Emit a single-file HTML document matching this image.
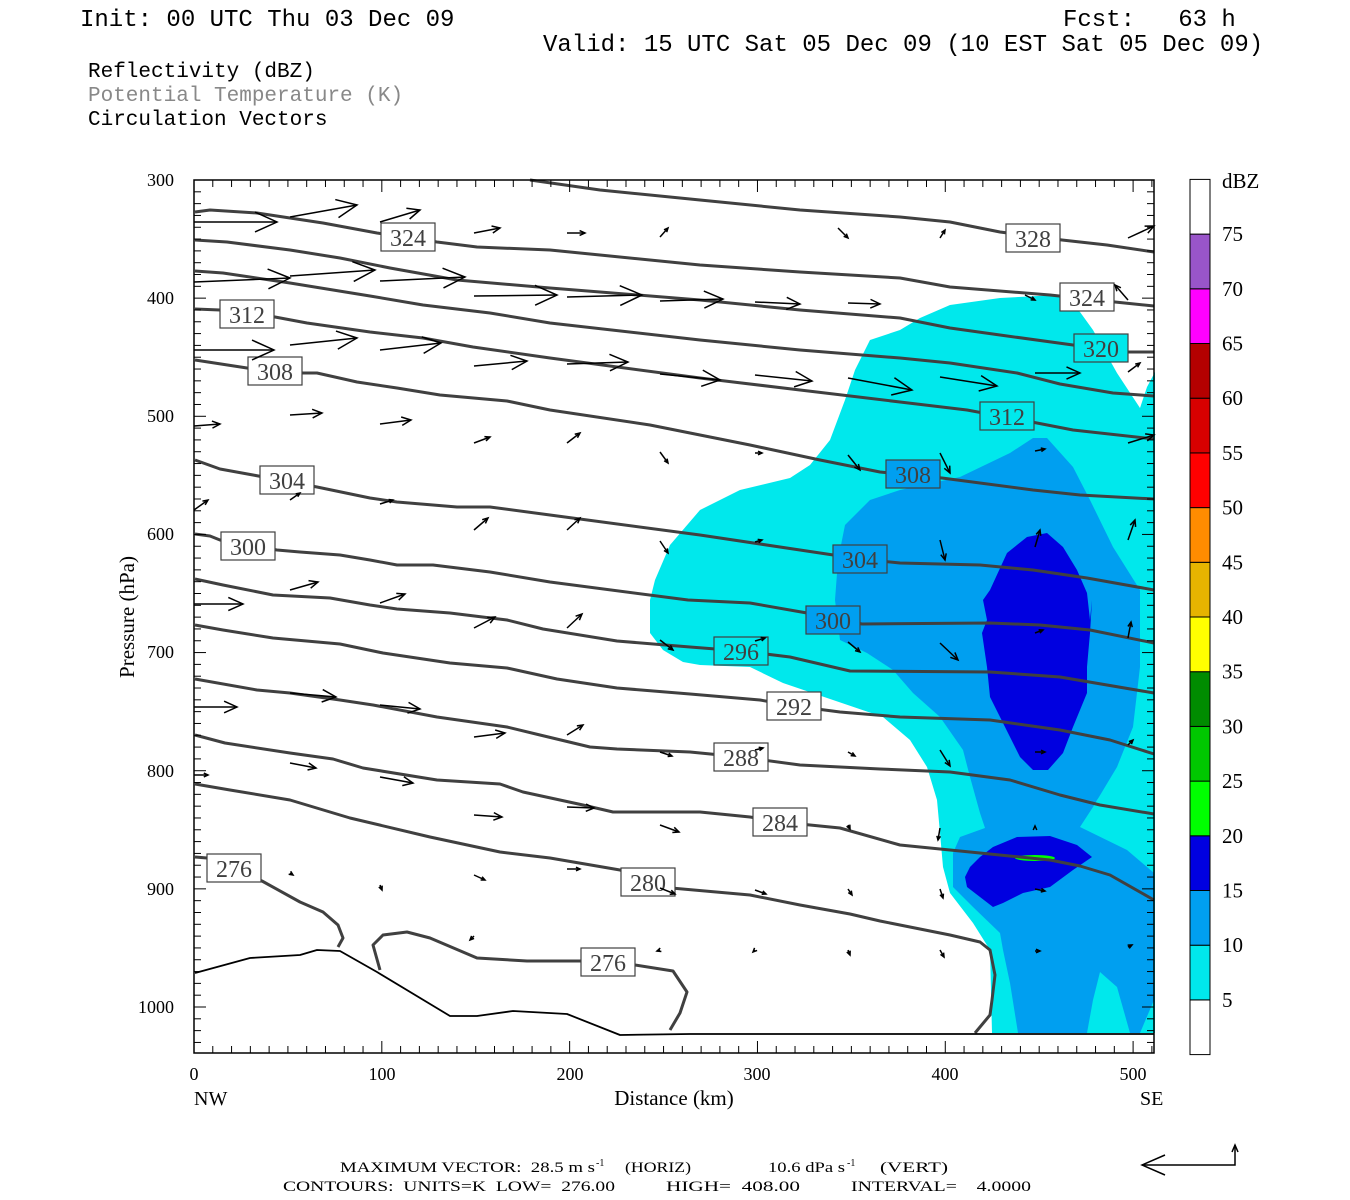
<!DOCTYPE html>
<html><head><meta charset="utf-8">
<style>
html,body{margin:0;padding:0;background:#fff;}
svg{display:block;}
text{font-family:"Liberation Serif",serif;white-space:pre;}
.m{font-family:"Liberation Mono",monospace;}
</style></head>
<body>
<svg id="s" width="1350" height="1200" viewBox="0 0 1350 1200" xmlns="http://www.w3.org/2000/svg" xml:space="preserve">
<rect width="1350" height="1200" fill="#fff"/>
<text class="m" x="80" y="26" font-size="24" fill="#000">Init: 00 UTC Thu 03 Dec 09</text>
<text class="m" x="1063" y="26" font-size="24" fill="#000">Fcst:   63 h</text>
<text class="m" x="543" y="51" font-size="24" fill="#000">Valid: 15 UTC Sat 05 Dec 09 (10 EST Sat 05 Dec 09)</text>
<text class="m" x="88" y="77" font-size="21" fill="#000">Reflectivity (dBZ)</text>
<text class="m" x="88" y="101" font-size="21" fill="#888">Potential Temperature (K)</text>
<text class="m" x="88" y="125" font-size="21" fill="#000">Circulation Vectors</text>

<g>
<path fill="#00e8ec" d="M650,633 L650,600 655,580 670,545 700,510 740,490 790,478 810,465 830,440 845,400 855,370 870,340 900,330 920,318 950,305 1000,298 1057,295 1080,312 1093,330 1117,373 1140,408 1147,387 1155,372 L1155,1033 992,1033 990,950 973,923 950,893 943,867 940,833 937,800 927,767 910,740 883,717 833,700 783,683 750,667 700,665 683,662 663,650 Z"/>
<path fill="#009ff0" d="M835,600 838,560 845,525 870,500 900,490 960,477 1010,453 1033,438 1047,438 1073,467 1090,500 1113,547 1140,590 1140,667 1133,727 1117,767 1093,807 1080,827 1127,850 1154,873 1154,1000 1140,1033 1018,1033 1010,983 1003,950 1000,933 973,907 953,887 953,853 960,837 985,828 980,813 970,777 963,750 940,717 913,693 893,670 867,653 840,640 Z"/>
<path fill="#00e8ec" d="M1087,1033 1093,1000 1100,972 1117,987 1130,1033 Z"/>
<path fill="#00e8ec" d="M1083,827 1097,800 1120,770 1133,750 1145,790 1140,830 1130,850 Z"/>
<path fill="#0000e0" d="M983,600 987,620 982,633 987,667 990,697 1003,723 1020,757 1033,770 1048,770 1063,753 1073,727 1087,693 1087,667 1090,633 1092,600 1090,620 1087,593 1077,570 1063,547 1047,533 1027,537 1007,553 990,590 Z"/>
<path fill="#0000e0" d="M965,877 967,887 993,907 1003,903 1023,893 1050,887 1073,870 1092,857 1077,845 1050,836 1017,837 993,847 980,857 970,867 Z"/>
<ellipse cx="1035" cy="858" rx="20" ry="3" fill="#00ff00"/>
</g>

<g id="contours" fill="none" stroke="#404040" stroke-width="3" stroke-linejoin="round"></g>
<g id="labels"></g>
<g id="arrows" stroke="#000" stroke-width="1.5" fill="none"></g>

<rect x="194" y="180" width="960" height="873" fill="none" stroke="#000" stroke-width="1.5"/>
<g id="ticks" stroke="#000" stroke-width="1"></g>

<g font-size="18" text-anchor="end" fill="#000">
<text x="174" y="186">300</text><text x="174" y="304">400</text><text x="174" y="422">500</text>
<text x="174" y="540">600</text><text x="174" y="658">700</text><text x="174" y="777">800</text>
<text x="174" y="895">900</text><text x="174" y="1013">1000</text>
</g>
<g font-size="18" text-anchor="middle" fill="#000">
<text x="194" y="1080">0</text><text x="382" y="1080">100</text><text x="570" y="1080">200</text>
<text x="757" y="1080">300</text><text x="945" y="1080">400</text><text x="1133" y="1080">500</text>
</g>
<text x="194" y="1105" font-size="20">NW</text>
<text x="1140" y="1105" font-size="20">SE</text>
<text x="674" y="1105" font-size="21" text-anchor="middle">Distance (km)</text>
<text x="134" y="617" font-size="21" text-anchor="middle" transform="rotate(-90 134 617)">Pressure (hPa)</text>

<g id="cbar" stroke="#000" stroke-width="1"></g>
<g font-size="21" fill="#000"><text x="1222" y="188">dBZ</text></g>
<g id="cbl" font-size="21" fill="#000"></g>

<g font-size="15" fill="#000">
<text x="340" y="1172" textLength="255" lengthAdjust="spacingAndGlyphs">MAXIMUM VECTOR:  28.5 m s</text>
<text x="596" y="1166" font-size="10">-1</text>
<text x="625" y="1172" textLength="66" lengthAdjust="spacingAndGlyphs">(HORIZ)</text>
<text x="768" y="1172" textLength="77" lengthAdjust="spacingAndGlyphs">10.6 dPa s</text>
<text x="847" y="1166" font-size="10">-1</text>
<text x="880" y="1172" textLength="68" lengthAdjust="spacingAndGlyphs">(VERT)</text>
<text x="283" y="1191" textLength="332" lengthAdjust="spacingAndGlyphs">CONTOURS:  UNITS=K  LOW=  276.00</text>
<text x="666" y="1191" textLength="134" lengthAdjust="spacingAndGlyphs">HIGH=  408.00</text>
<text x="851" y="1191" textLength="180" lengthAdjust="spacingAndGlyphs">INTERVAL=    4.0000</text>
</g>
<g stroke="#000" stroke-width="1.5" fill="none">
<polyline points="1142,1165 1235,1165 1235,1145"/>
<polyline points="1165,1155 1142,1165 1165,1175"/>
<polyline points="1232,1152 1235,1145 1238,1152"/>
</g>
</svg>
<script>
const NS="http://www.w3.org/2000/svg";
function el(t,a,p){const e=document.createElementNS(NS,t);for(const k in a)e.setAttribute(k,a[k]);p.appendChild(e);return e;}
const C=document.getElementById('contours');
const lines=[
"530,180 600,190 700,200 800,210 900,217 950,222 1000,232 1062,240 1107,245 1154,252",
"195,212 210,210 257,213 323,223 377,233 437,242 477,247 550,250 700,265 800,272 900,278 950,287 1050,295 1115,302 1154,306",
"195,240 227,242 290,250 340,258 390,268 457,280 550,288 700,300 800,310 900,318 950,328 1000,335 1073,345 1128,352 1154,352",
"195,271 223,273 290,283 370,296 423,305 490,313 550,323 700,340 800,350 900,358 950,363 1017,373 1060,384 1113,393 1154,396",
"195,309 220,310 275,317 307,323 370,332 423,338 473,347 550,358 700,378 800,390 900,402 967,410 1037,423 1073,430 1154,439",
"195,360 247,368 303,373 317,373 357,382 397,388 440,395 507,401 550,410 650,425 750,445 820,460 880,472 942,478 1033,490 1080,495 1154,499",
"195,460 220,469 253,475 317,487 370,498 397,502 457,507 490,507 550,515 700,535 800,550 860,559 900,563 980,565 1033,570 1087,578 1154,590",
"195,534 210,536 220,540 277,550 300,552 340,555 370,560 397,565 433,565 490,572 550,582 688,600 750,603 807,613 862,624 990,623 1040,625 1090,630 1154,643",
"195,579 223,585 273,595 330,598 370,605 397,609 450,613 507,620 543,629 617,641 690,647 741,651 790,657 850,671 990,672 1060,677 1154,693",
"195,625 223,630 273,638 340,644 383,653 450,663 507,668 557,679 617,688 690,694 760,700 794,706 840,712 900,717 990,720 1060,730 1110,740 1154,754",
"195,679 257,690 290,693 340,700 373,705 437,717 507,727 540,735 590,747 617,749 690,752 741,757 800,765 880,769 950,772 1010,780 1060,795 1100,805 1154,814",
"195,735 225,743 290,753 333,759 363,768 437,780 500,784 523,792 583,805 613,812 700,812 750,817 780,822 840,828 900,845 970,852 1050,860 1080,866 1110,875 1154,900",
"195,784 230,790 290,800 350,818 430,837 500,852 550,858 620,870 660,887 750,895 800,905 850,914 880,921 950,935 980,942 990,950 995,975 992,1000 990,1015 975,1033",
"195,857 207,858 262,881 300,902 323,912 338,925 343,938 338,947",
"380,970 373,945 383,935 407,932 430,938 477,958 527,961 580,961 635,965 673,971 687,992 680,1013 670,1030"
];
lines.forEach(p=>el('polyline',{points:p},C));
el('polyline',{points:"195,973 250,958 300,955 317,950 340,951 377,972 450,1016 477,1016 513,1011 567,1014 620,1035 690,1034 1154,1034",stroke:"#000","stroke-width":"1.8"},C);
const L=document.getElementById('labels');
const labs=[[408,237,"324","#fff"],[247,314,"312","#fff"],[275,371,"308","#fff"],[287,480,"304","#fff"],[248,546,"300","#fff"],[234,868,"276","#fff"],
[1033,238,"328","#fff"],[1087,297,"324","#fff"],[1101,348,"320","#00e8ec"],[1007,416,"312","#00e8ec"],[913,474,"308","#009ff0"],[860,559,"304","#009ff0"],
[833,620,"300","#009ff0"],[741,651,"296","#00e8ec"],[794,706,"292","#fff"],[741,757,"288","#fff"],[780,822,"284","#fff"],[648,882,"280","#fff"],[608,962,"276","#fff"]];
labs.forEach(([x,y,t,f])=>{el('rect',{x:x-27,y:y-14,width:54,height:28,fill:f,stroke:"#404040","stroke-width":"1.2"},L);
 const e=el('text',{x:x,y:y+9,"text-anchor":"middle","font-size":"24",fill:"#404040"},L);e.textContent=t;});
const A=document.getElementById('arrows');
const arr=[[290,217,357,205],[380,222,420,210],[194,222,277,222],[474,233,500,228],[567,233,585,233],[660,237,668,228],[838,228,848,238],[940,238,945,230],[1128,238,1154,226],
[194,282,290,278],[290,276,375,270],[380,281,465,277],[474,296,557,295],[567,297,642,295],[660,301,723,299],[755,302,800,304],[848,303,880,304],[1025,295,1035,300],[1128,300,1115,285],
[194,350,274,350],[290,345,357,338],[380,350,441,343],[474,366,527,361],[567,364,628,362],[660,374,720,380],[755,375,812,381],[848,378,912,390],[940,377,997,386],[1035,373,1080,373],[1128,372,1140,363],
[194,426,220,424],[290,415,322,413],[380,424,411,420],[474,443,490,437],[567,443,580,433],[660,452,668,463],[755,453,762,453],[848,455,860,470],[940,453,950,473],[1035,451,1045,449],[1128,443,1154,435],
[194,510,208,500],[290,500,300,493],[380,504,393,500],[474,530,488,518],[567,530,580,518],[660,541,668,553],[755,542,762,540],[940,540,945,560],[1035,547,1040,530],[1128,540,1135,520],
[194,604,243,604],[290,590,318,582],[380,603,405,594],[474,628,495,617],[567,628,582,614],[660,640,673,650],[755,641,765,638],[848,642,860,652],[940,643,958,660],[1035,633,1043,630],[1128,638,1131,622],
[194,707,237,707],[290,693,336,697],[380,705,420,709],[474,737,505,733],[567,735,583,725],[660,752,672,756],[755,750,763,748],[848,752,855,756],[940,750,950,766],[1035,752,1045,752],[1128,745,1133,740],
[194,775,208,775],[290,763,316,768],[380,777,413,783],[474,815,502,817],[567,807,594,808],[660,825,679,832],[848,825,850,829],[940,828,938,840],[1035,828,1035,826],
[290,873,293,875],[380,885,382,890],[474,875,485,880],[567,869,580,869],[660,888,675,894],[755,890,766,894],[848,889,852,895],[940,889,943,898],[1035,889,1045,891],
[474,936,470,940],[660,950,657,951],[755,950,753,952],[848,950,850,955],[940,950,944,957],[1035,951,1040,951],[1128,947,1132,945]];
arr.forEach(([x1,y1,x2,y2])=>{el('line',{x1,y1,x2,y2},A);const dx=x2-x1,dy=y2-y1,l=Math.hypot(dx,dy)||1;
 const h=Math.min(Math.max(l*0.3,4),22),ux=dx/l,uy=dy/l,w=h*0.45;
 el('polyline',{points:`${x2-ux*h-uy*w},${y2-uy*h+ux*w} ${x2},${y2} ${x2-ux*h+uy*w},${y2-uy*h-ux*w}`},A);});
const T=document.getElementById('ticks');
for(let p=300;p<=1030;p+=10){const y=180+(p-300)*827/700;const big=p%100==0;
 el('line',{x1:194,y1:y,x2:194+(big?12:7),y2:y},T);el('line',{x1:1154,y1:y,x2:1154-(big?12:7),y2:y},T);}
for(let d=0;d<=510;d+=10){const x=194+d*1.8782;const big=d%100==0;
 el('line',{x1:x,y1:180,x2:x,y2:180+(big?12:7)},T);el('line',{x1:x,y1:1053,x2:x,y2:1053-(big?12:7)},T);}
const cols=["#ffffff","#00e8ec","#009ff0","#0000e0","#00ff00","#00c800","#008c00","#ffff00","#e6b400","#ff8c00","#ff0000","#d80000","#b40000","#ff00ff","#9955c9","#ffffff"];
const CB=document.getElementById('cbar'),CL=document.getElementById('cbl');
const st=54.7;
for(let i=0;i<16;i++){const yb=1054.6-i*st;const yt=yb-st;
 el('rect',{x:1190,y:yt,width:20,height:st,fill:cols[i]},CB);
 if(i>0){const t=el('text',{x:1222,y:yb+7},CL);t.textContent=String(i*5);}}
</script>
</body></html>
